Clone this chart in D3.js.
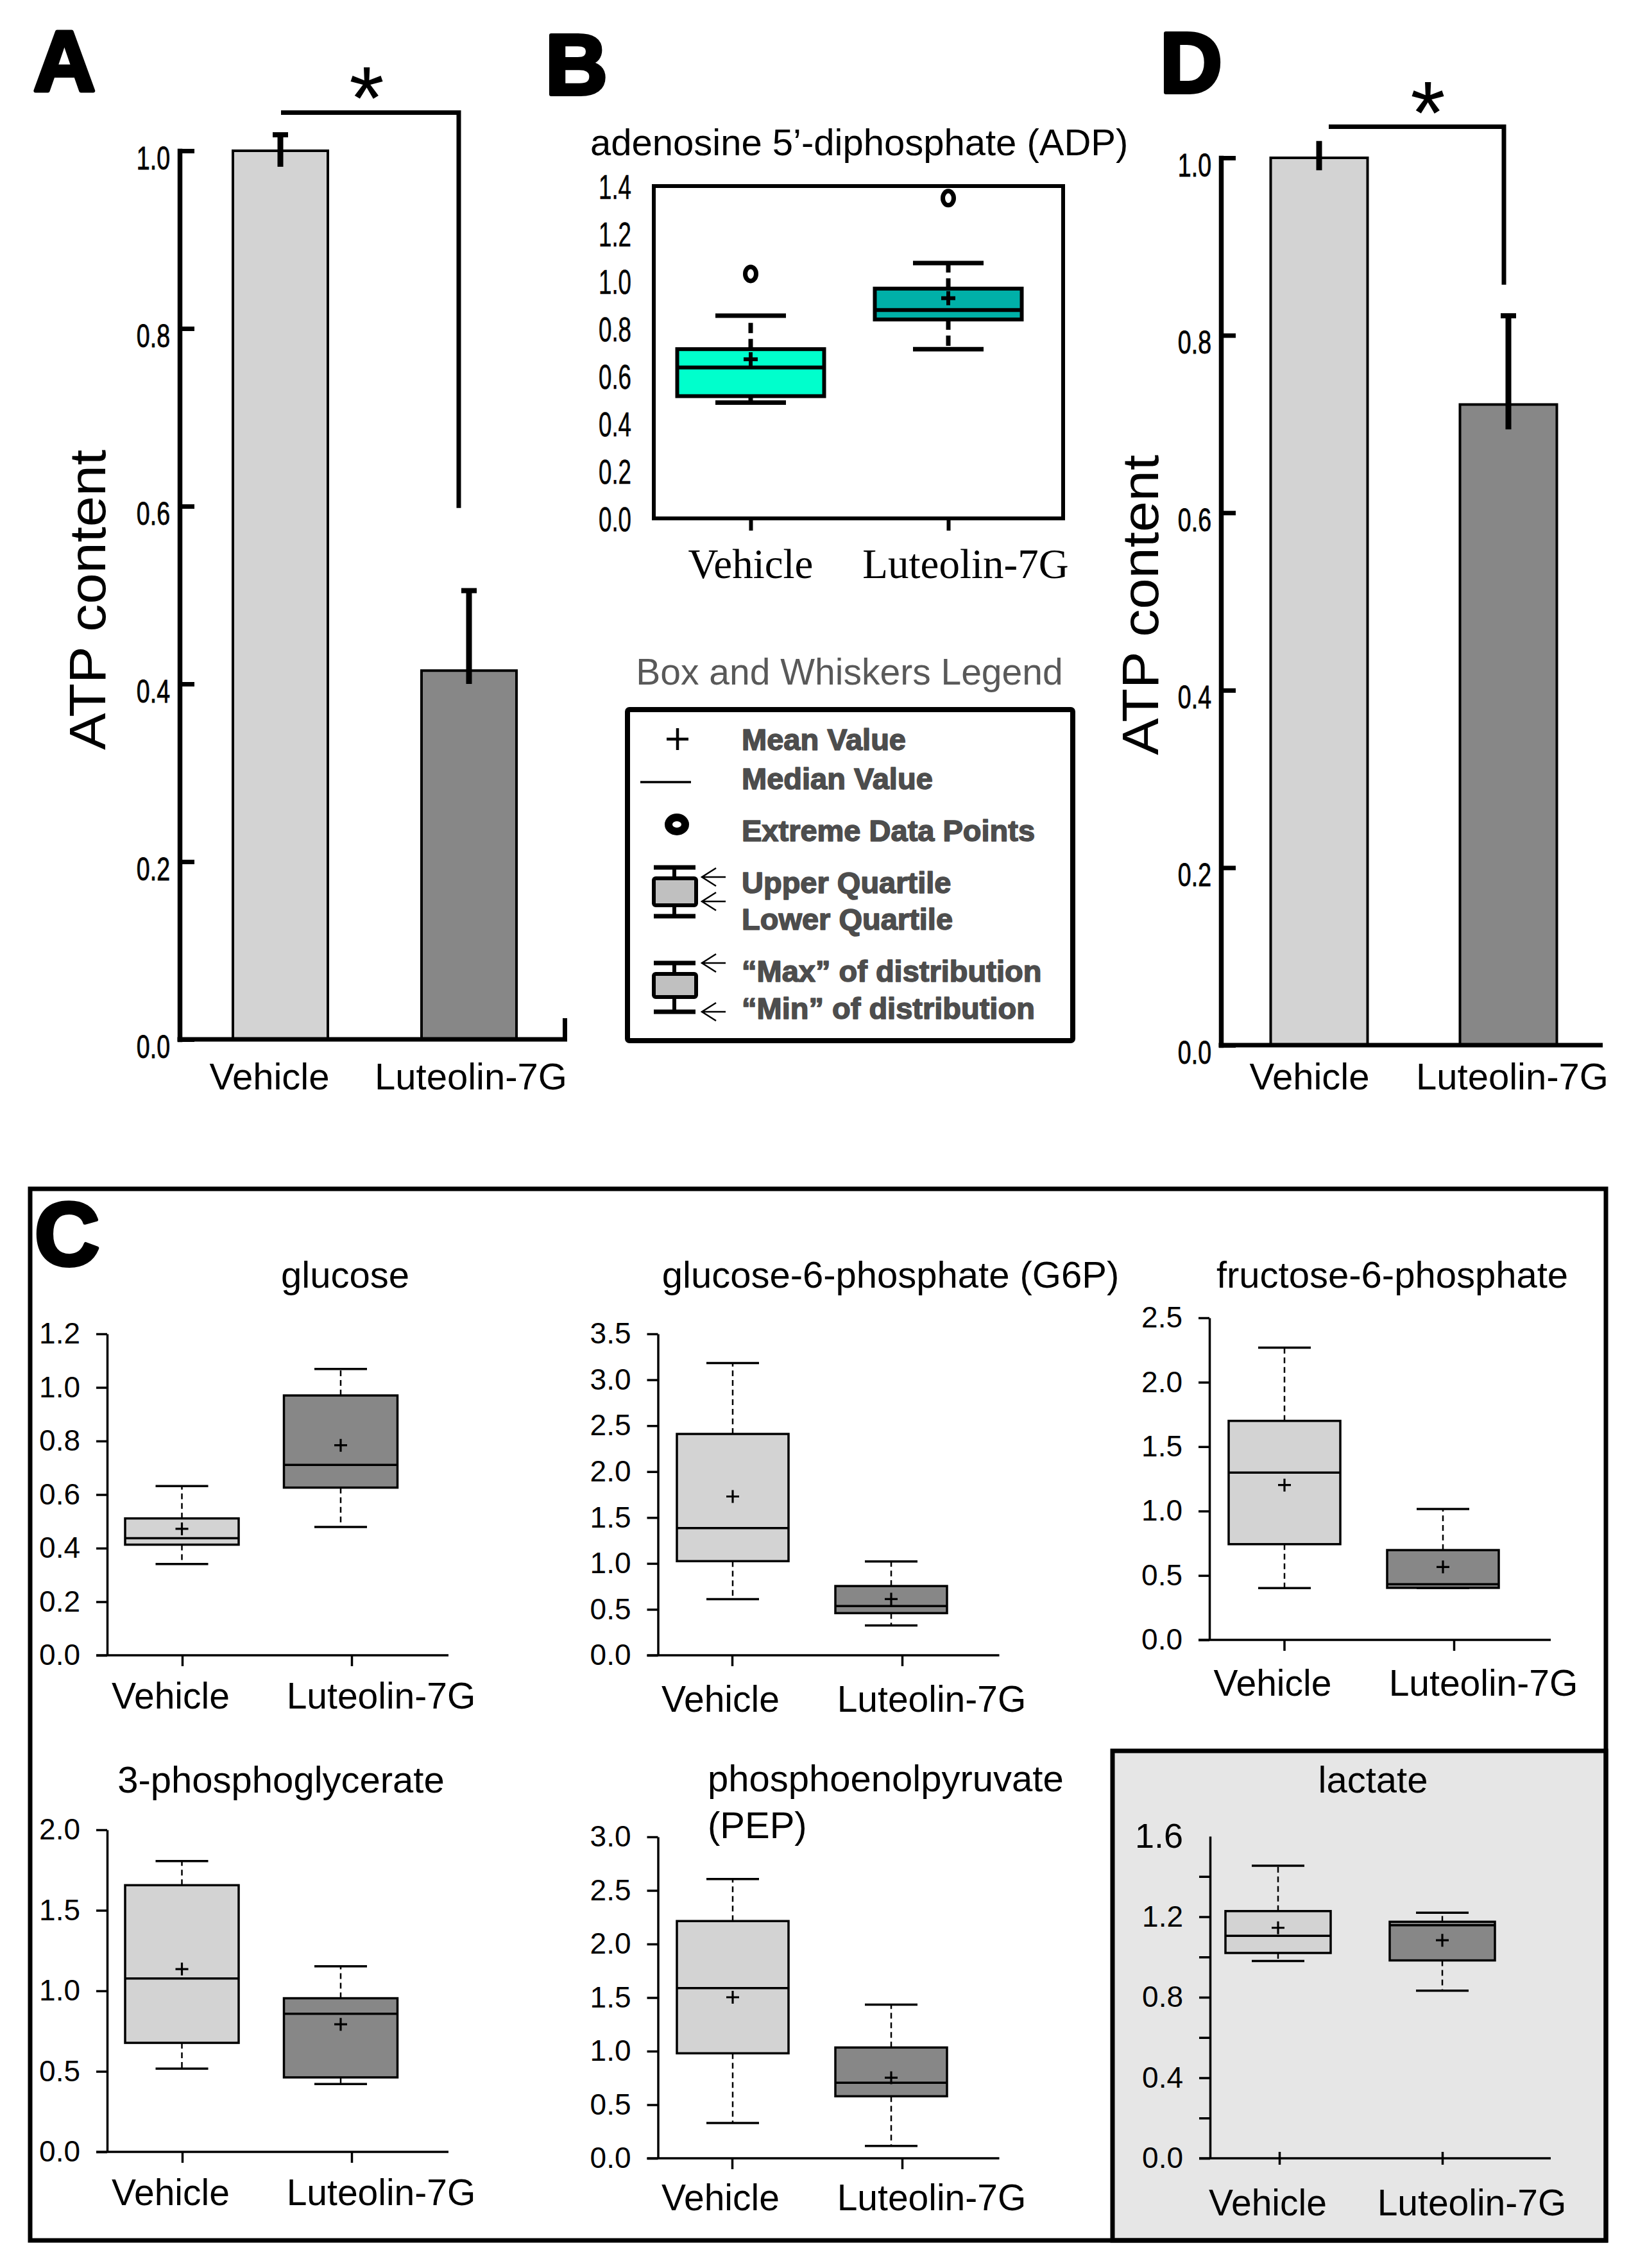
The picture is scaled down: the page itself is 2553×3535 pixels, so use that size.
<!DOCTYPE html>
<html><head><meta charset="utf-8">
<script src="https://cdn.jsdelivr.net/npm/d3@7"></script>
<style>body{margin:0;background:#fff}svg{display:block}</style>
</head><body>
<svg id="fig" width="2553" height="3535"></svg>
<script>
// ---------------- DATA ----------------
const groups = ["Vehicle", "Luteolin-7G"];

// Panel A (ATP content)
const atpMeanA = [1.0, 0.415];
const atpErrUpA = [0.018, 0.09];
const atpErrDownA = [0.018, 0.015];
const sigBracketA = [1.043, 0.598];
// Panel D (ATP content)
const atpMeanD = [1.0, 0.722];
const atpErrUpD = [0.019, 0.10];
const atpErrDownD = [0.014, 0.028];
const sigBracketD = [1.035, 0.857];
const atpTicks = [0, 0.2, 0.4, 0.6, 0.8, 1.0];
const atpYLabel = "ATP content";

// Panel B (ADP box plot)
const adpTitle = "adenosine 5’-diphosphate (ADP)";
const adpMin = [0.488, 0.713];
const adpQ1 = [0.515, 0.838];
const adpMedian = [0.636, 0.878];
const adpQ3 = [0.713, 0.968];
const adpMax = [0.854, 1.076];
const adpMean = [0.67, 0.928];
const adpOutlier = [1.03, 1.349];
const adpTicks = [0, 0.2, 0.4, 0.6, 0.8, 1.0, 1.2, 1.4];

// Legend
const legendTitle = "Box and Whiskers Legend";
const legendItems = ["Mean Value", "Median Value", "Extreme Data Points", "Upper Quartile",
  "Lower Quartile", "“Max” of distribution", "“Min” of distribution"];

// Panel C (metabolites)
const metaboliteTitles = [["glucose"], ["glucose-6-phosphate (G6P)"], ["fructose-6-phosphate"],
  ["3-phosphoglycerate"], ["phosphoenolpyruvate", "(PEP)"], ["lactate"]];
const whiskerLow  = [[0.341, 0.479], [0.612, 0.325], [0.402, 0.404], [0.517, 0.421], [0.329, 0.116], [0.980, 0.833]];
const quartile1   = [[0.413, 0.626], [1.025, 0.459], [0.743, 0.404], [0.677, 0.4625], [0.980, 0.579], [1.020, 0.983]];
const medians     = [[0.437, 0.711], [1.385, 0.536], [1.298, 0.432], [1.077, 0.858], [1.588, 0.705], [1.105, 1.158]];
const quartile3   = [[0.511, 0.970], [2.410, 0.754], [1.700, 0.697], [1.656, 0.954], [2.214, 1.034], [1.228, 1.175]];
const whiskerHigh = [[0.632, 1.069], [3.183, 1.021], [2.268, 1.016], [1.806, 1.152], [2.606, 1.434], [1.453, 1.220]];
const means       = [[0.472, 0.784], [1.729, 0.612], [1.202, 0.566], [1.135, 0.792], [1.503, 0.752], [1.145, 1.083]];
const cTicks = [
  [0, 0.2, 0.4, 0.6, 0.8, 1.0, 1.2],
  [0, 0.5, 1.0, 1.5, 2.0, 2.5, 3.0, 3.5],
  [0, 0.5, 1.0, 1.5, 2.0, 2.5],
  [0, 0.5, 1.0, 1.5, 2.0],
  [0, 0.5, 1.0, 1.5, 2.0, 2.5, 3.0],
  [0, 0.2, 0.4, 0.6, 0.8, 1.0, 1.2, 1.4, 1.6]
];

// ---------------- DRAWING ----------------
const SANS = "'Liberation Sans', Arial, Helvetica, sans-serif";
const SERIF = "'Liberation Serif', 'Times New Roman', serif";
const svg = d3.select("#fig");
svg.append("rect").attr("width", 2553).attr("height", 3535).attr("fill", "#fff");
const fmt1 = d3.format(".1f");

function panelLetter(t, x, y, size) {
  svg.append("text").attr("x", x).attr("y", y).text(t)
    .attr("font-family", SANS).attr("font-weight", "bold").attr("font-size", size)
    .attr("fill", "#000").attr("stroke", "#000").attr("stroke-width", 6)
    .attr("stroke-linejoin", "round");
}

// ----- bar panels A and D -----
function barPanel(c, mean, errUp, errDown, sig, caps) {
  const y = d3.scaleLinear().domain([0, 1]).range([c.y0, c.y1]);
  const x = d3.scalePoint().domain(groups).range(c.centers);
  const g = svg.append("g");
  const fills = ["#d3d3d3", "#878787"];
  g.selectAll("rect.bar").data(groups).join("rect")
    .attr("x", d => x(d) - c.barW / 2).attr("y", (d, i) => y(mean[i]))
    .attr("width", c.barW).attr("height", (d, i) => y(0) - y(mean[i]))
    .attr("fill", (d, i) => fills[i]).attr("stroke", "#000").attr("stroke-width", 4);
  groups.forEach((d, i) => {
    g.append("line").attr("x1", x(d)).attr("x2", x(d))
      .attr("y1", y(mean[i] + errUp[i])).attr("y2", y(mean[i] - errDown[i]))
      .attr("stroke", "#000").attr("stroke-width", 9);
    if (caps[i]) g.append("line").attr("x1", x(d) - 12).attr("x2", x(d) + 12)
      .attr("y1", y(mean[i] + errUp[i])).attr("y2", y(mean[i] + errUp[i]))
      .attr("stroke", "#000").attr("stroke-width", 8);
  });
  const ax = g.append("g").attr("transform", `translate(${c.axisX},0)`)
    .call(d3.axisLeft(y).tickValues(atpTicks).tickSizeInner(-23).tickSizeOuter(0)
      .tickPadding(15).tickFormat(fmt1));
  ax.attr("font-family", SANS).attr("font-size", 50);
  ax.select(".domain").attr("stroke-width", 7.5).attr("stroke-linecap", "square");
  ax.selectAll(".tick line").attr("stroke-width", 7);
  ax.selectAll(".tick text").attr("transform", "scale(0.75,1)").attr("x", -15 / 0.75)
    .attr("dy", "0.56em").attr("fill", "#000").attr("stroke", "#000").attr("stroke-width", 0.8);
  g.append("line").attr("x1", c.axisX - 3.5).attr("x2", c.xEnd).attr("y1", c.y0).attr("y2", c.y0)
    .attr("stroke", "#000").attr("stroke-width", 7);
  if (c.endTick) g.append("line").attr("x1", c.xEnd - 3.5).attr("x2", c.xEnd - 3.5)
    .attr("y1", c.y0).attr("y2", c.y0 - 33).attr("stroke", "#000").attr("stroke-width", 7);
  g.selectAll("text.xl").data(groups).join("text").attr("class", "xl")
    .attr("x", (d, i) => x(d) + c.labelShift[i]).attr("y", c.labelY)
    .attr("text-anchor", "middle").attr("font-family", SANS).attr("font-size", 58).text(d => d);
  g.append("text").attr("transform", `translate(${c.ylabX},${c.ylabY}) rotate(-90)`)
    .attr("text-anchor", "middle").attr("font-family", SANS).attr("font-size", 80)
    .attr("textLength", 468).attr("lengthAdjust", "spacingAndGlyphs").text(atpYLabel);
  const bx0 = x(groups[0]) + c.brOff[0], bx1 = x(groups[1]) + c.brOff[1];
  g.append("path").attr("d", `M${bx0},${y(sig[0])}H${bx1}V${y(sig[1])}`)
    .attr("fill", "none").attr("stroke", "#000").attr("stroke-width", 7);
  g.append("text").attr("x", (bx0 + bx1) / 2 + c.starOff).attr("y", y(sig[0]) + 26)
    .attr("text-anchor", "middle").attr("font-family", SANS)
    .attr("font-size", 140).text("*");
}

barPanel({axisX: 280, y0: 1620, y1: 235, centers: [437, 731], barW: 148, xEnd: 884, endTick: true,
  labelShift: [-17, 3], labelY: 1698, ylabX: 164, ylabY: 935, brOff: [1, -16], starOff: -5},
  atpMeanA, atpErrUpA, atpErrDownA, sigBracketA, [true, true]);
barPanel({axisX: 1903, y0: 1629, y1: 246, centers: [2056, 2351], barW: 151, xEnd: 2498, endTick: false,
  labelShift: [-15, 6], labelY: 1698, ylabX: 1805, ylabY: 943, brOff: [15, -7], starOff: 18},
  atpMeanD, atpErrUpD, atpErrDownD, sigBracketD, [false, true]);
panelLetter("A", 52, 142, 134);
panelLetter("D", 1808, 144, 134);
panelLetter("B", 850, 147, 134);

// ----- generic box drawer -----
function drawBox(g, y, cx, s, o) {
  g.append("line").attr("x1", cx).attr("x2", cx).attr("y1", y(s.q3)).attr("y2", y(s.hi))
    .attr("stroke", "#000").attr("stroke-width", o.wsw).attr("stroke-dasharray", o.dash);
  g.append("line").attr("x1", cx).attr("x2", cx).attr("y1", y(s.q1)).attr("y2", y(s.lo))
    .attr("stroke", "#000").attr("stroke-width", o.wsw).attr("stroke-dasharray", o.dash);
  [s.hi, s.lo].forEach(v => g.append("line").attr("x1", cx - o.cap / 2).attr("x2", cx + o.cap / 2)
    .attr("y1", y(v)).attr("y2", y(v)).attr("stroke", "#000").attr("stroke-width", o.capsw));
  g.append("rect").attr("x", cx - o.bw / 2).attr("y", y(s.q3)).attr("width", o.bw)
    .attr("height", y(s.q1) - y(s.q3)).attr("fill", o.fill).attr("stroke", "#000")
    .attr("stroke-width", o.bsw);
  g.append("line").attr("x1", cx - o.bw / 2).attr("x2", cx + o.bw / 2)
    .attr("y1", y(s.med)).attr("y2", y(s.med)).attr("stroke", "#000").attr("stroke-width", o.bsw);
  const my = y(s.mean);
  g.append("path").attr("d", `M${cx - o.plus},${my}H${cx + o.plus}M${cx},${my - o.plus}V${my + o.plus}`)
    .attr("stroke", "#000").attr("stroke-width", o.psw).attr("fill", "none");
  if (s.out != null) g.append("ellipse").attr("cx", cx).attr("cy", y(s.out))
    .attr("rx", 8.5).attr("ry", 11).attr("fill", "none").attr("stroke", "#000").attr("stroke-width", 7);
}

// ----- Panel B -----
(function () {
  const y = d3.scaleLinear().domain([0, 1.4]).range([808, 290]);
  const x = d3.scalePoint().domain(groups).range([1170, 1478]);
  const g = svg.append("g");
  const fills = ["#00FFCC", "#00B0A8"];
  groups.forEach((d, i) => drawBox(g, y, x(d), {lo: adpMin[i], q1: adpQ1[i], med: adpMedian[i],
    q3: adpQ3[i], hi: adpMax[i], mean: adpMean[i], out: adpOutlier[i]},
    {bw: 229, cap: 110, fill: fills[i], bsw: 6, wsw: 7, capsw: 7, dash: "16,9", plus: 11, psw: 6}));
  g.append("rect").attr("x", 1019).attr("y", 290).attr("width", 638).attr("height", 518)
    .attr("fill", "none").attr("stroke", "#000").attr("stroke-width", 6);
  const ay = g.append("g").attr("transform", "translate(1019,0)")
    .call(d3.axisLeft(y).tickValues(adpTicks).tickSize(0).tickPadding(35).tickFormat(fmt1));
  ay.select(".domain").remove();
  ay.attr("font-family", SANS).attr("font-size", 54);
  ay.selectAll(".tick text").attr("transform", "scale(0.68,1)").attr("x", -35 / 0.68)
    .attr("dy", "0.36em").attr("fill", "#000").attr("stroke", "#000").attr("stroke-width", 0.6);
  const axb = g.append("g").attr("transform", "translate(0,808)")
    .call(d3.axisBottom(x).tickSize(19).tickFormat(""));
  axb.select(".domain").remove();
  axb.selectAll(".tick line").attr("stroke-width", 6);
  const shift = [0, 27];
  g.selectAll("text.xl").data(groups).join("text").attr("class", "xl")
    .attr("x", (d, i) => x(d) + shift[i]).attr("y", 901).attr("text-anchor", "middle")
    .attr("font-family", SERIF).attr("font-size", 65).text(d => d);
  g.append("text").attr("x", 920).attr("y", 242).attr("font-family", SANS).attr("font-size", 58)
    .text(adpTitle);
})();

// ----- Legend -----
(function () {
  const g = svg.append("g");
  g.append("text").attr("x", 1324).attr("y", 1067).attr("text-anchor", "middle")
    .attr("font-family", SANS).attr("font-size", 57).attr("fill", "#595959").text(legendTitle);
  g.append("rect").attr("x", 978).attr("y", 1106).attr("width", 694).attr("height", 516)
    .attr("fill", "none").attr("stroke", "#000").attr("stroke-width", 8).attr("rx", 3);
  const baselines = [1169, 1230, 1311, 1392, 1449, 1530, 1588];
  g.selectAll("text.li").data(legendItems).join("text").attr("class", "li")
    .attr("x", 1156).attr("y", (d, i) => baselines[i]).attr("font-family", SANS)
    .attr("font-weight", "bold").attr("font-size", 47).attr("fill", "#4d4d4d")
    .attr("stroke", "#4d4d4d").attr("stroke-width", 1.6).attr("stroke-linejoin", "round").text(d => d);
  g.append("path").attr("d", "M1039,1152H1073M1056,1135V1169").attr("stroke", "#000").attr("stroke-width", 4.5);
  g.append("line").attr("x1", 998).attr("x2", 1077).attr("y1", 1219).attr("y2", 1219)
    .attr("stroke", "#000").attr("stroke-width", 3.5);
  g.append("ellipse").attr("cx", 1055).attr("cy", 1285).attr("rx", 13).attr("ry", 11)
    .attr("fill", "none").attr("stroke", "#000").attr("stroke-width", 12);
  function icon(capT, boxT, boxB, capB) {
    g.append("line").attr("x1", 1051).attr("x2", 1051).attr("y1", capT).attr("y2", capB)
      .attr("stroke", "#000").attr("stroke-width", 6);
    [capT, capB].forEach(v => g.append("line").attr("x1", 1019).attr("x2", 1084).attr("y1", v).attr("y2", v)
      .attr("stroke", "#000").attr("stroke-width", 7));
    g.append("rect").attr("x", 1019).attr("y", boxT).attr("width", 66).attr("height", boxB - boxT)
      .attr("fill", "#c0c0c0").attr("stroke", "#000").attr("stroke-width", 6).attr("rx", 3);
  }
  icon(1352, 1369, 1411, 1428);
  icon(1501, 1518, 1554, 1577);
  [1367, 1405, 1501, 1577].forEach(v => g.append("path")
    .attr("d", `M1131,${v}H1094M1116,${v - 14}L1094,${v}L1116,${v + 14}`)
    .attr("fill", "none").attr("stroke", "#000").attr("stroke-width", 2.5));
})();

// ----- Panel C -----
svg.append("rect").attr("x", 1734).attr("y", 2729).attr("width", 769).attr("height", 763)
  .attr("fill", "#e6e6e6").attr("stroke", "#000").attr("stroke-width", 7);
svg.append("rect").attr("x", 47).attr("y", 1853).attr("width", 2456).attr("height", 1639)
  .attr("fill", "none").attr("stroke", "#000").attr("stroke-width", 7);
panelLetter("C", 54, 1972, 140);

const cLayout = [
  {ax: 167, y0: 2580, yTop: 2079, xEnd: 699, ticks: [284, 548], boxes: [283.5, 531], bw: 177, tx: 538, ty: 2007, anchor: "middle", labelY: 2663},
  {ax: 1025.5, y0: 2580, yTop: 2079, xEnd: 1557.5, ticks: [1141, 1406], boxes: [1142, 1389], bw: 174, tx: 1388, ty: 2007, anchor: "middle", labelY: 2668},
  {ax: 1885, y0: 2556, yTop: 2054, xEnd: 2417, ticks: [2001.5, 2266], boxes: [2002, 2249], bw: 174, tx: 2170, ty: 2007, anchor: "middle", labelY: 2643},
  {ax: 167, y0: 3354, yTop: 2852, xEnd: 699, ticks: [284, 548], boxes: [283.5, 531], bw: 177, tx: 438, ty: 2794, anchor: "middle", labelY: 3437},
  {ax: 1025.5, y0: 3364, yTop: 2863, xEnd: 1557.5, ticks: [1141, 1406], boxes: [1142, 1389], bw: 174, tx: 1103, ty: 2791.5, anchor: "start", labelY: 3445},
  {ax: 1886, y0: 3364, yTop: 2862, xEnd: 2417, ticks: [1994, 2248], boxes: [1992, 2248], bw: 164, tx: 2140, ty: 2794, anchor: "middle", labelY: 3453, lactate: true}
];
const cFills = ["#d3d3d3", "#878787"];
const cLabelShift = [-18, 46];

cLayout.forEach((L, i) => {
  const ymax = cTicks[i][cTicks[i].length - 1];
  const y = d3.scaleLinear().domain([0, ymax]).range([L.y0, L.yTop]);
  const xb = d3.scalePoint().domain(groups).range(L.boxes);
  const xt = d3.scalePoint().domain(groups).range(L.ticks);
  const g = svg.append("g");
  groups.forEach((d, j) => drawBox(g, y, xb(d), {lo: whiskerLow[i][j], q1: quartile1[i][j],
    med: medians[i][j], q3: quartile3[i][j], hi: whiskerHigh[i][j], mean: means[i][j]},
    {bw: L.bw, cap: 82, fill: cFills[j], bsw: 3.5, wsw: 2.5, capsw: 3.5, dash: "9,6", plus: 10, psw: 3.2}));
  const fmt = L.lactate ? (d => (Math.round(d * 10) % 4 === 0 ? fmt1(d) : "")) : fmt1;
  const ay = g.append("g").attr("transform", `translate(${L.ax},0)`)
    .call(d3.axisLeft(y).tickValues(cTicks[i]).tickSizeInner(17).tickSizeOuter(0).tickPadding(25).tickFormat(fmt));
  ay.attr("font-family", SANS).attr("font-size", 46);
  ay.select(".domain").attr("stroke-width", 3.5);
  ay.selectAll(".tick line").attr("stroke-width", 3.5);
  ay.selectAll(".tick text").attr("fill", "#000");
  if (L.lactate) {
    ay.selectAll(".tick").filter(d => d === ymax).select("line").remove();
    ay.selectAll(".tick").filter(d => d === ymax).select("text").attr("font-size", 54);
  }
  g.append("line").attr("x1", L.ax - 17).attr("x2", L.xEnd).attr("y1", L.y0).attr("y2", L.y0)
    .attr("stroke", "#000").attr("stroke-width", 3.5);
  const axb = g.append("g").attr("transform", `translate(0,${L.y0})`)
    .call(d3.axisBottom(xt).tickSize(L.lactate ? 10 : 17).tickFormat(""));
  axb.select(".domain").remove();
  axb.selectAll(".tick line").attr("stroke-width", 3.5);
  if (L.lactate) axb.selectAll(".tick line").attr("y1", -10);
  g.selectAll("text.xl").data(groups).join("text").attr("class", "xl")
    .attr("x", (d, j) => xt(d) + cLabelShift[j]).attr("y", L.labelY).attr("text-anchor", "middle")
    .attr("font-family", SANS).attr("font-size", 57).text(d => d);
  metaboliteTitles[i].forEach((t, k) => g.append("text").attr("x", L.tx).attr("y", L.ty + k * 73.5)
    .attr("text-anchor", L.anchor).attr("font-family", SANS).attr("font-size", 58).text(t));
});
</script>
</body></html>
